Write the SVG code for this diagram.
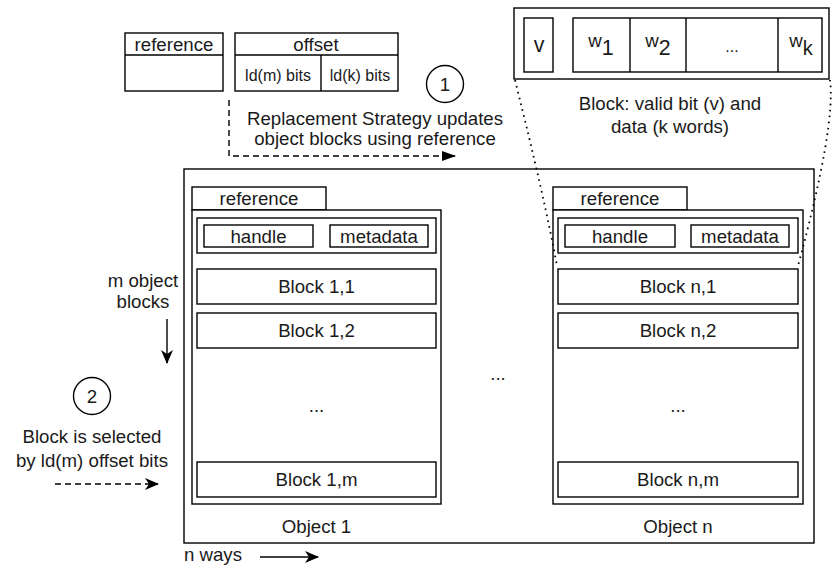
<svg xmlns="http://www.w3.org/2000/svg" width="832" height="570" viewBox="0 0 832 570">
  <style>
    .box { fill: #fff; stroke: #000; stroke-width: 1.4; }
    .t { font-family: "Liberation Sans", Arial, Helvetica, sans-serif; font-size: 18.67px; fill: #1a1a1a; text-anchor: middle; }
    .s { font-size: 16px; }
    .big { font-size: 21.33px; }
    .line { fill: none; stroke: #000; stroke-width: 1.4; }
    .dash { stroke-dasharray: 6 4; }
    .dot { fill: none; stroke: #000; stroke-width: 1.8; stroke-dasharray: 1.6 4.4; }
  </style>
  <defs>
    <marker id="tri" viewBox="0 0 14 10" refX="13" refY="5" markerWidth="14" markerHeight="10" markerUnits="userSpaceOnUse" orient="auto">
      <path d="M0,0 L14,5 L0,10 Z" fill="#000"/>
    </marker>
    <marker id="classic" viewBox="0 0 14 12" refX="13" refY="6" markerWidth="14" markerHeight="12" markerUnits="userSpaceOnUse" orient="auto">
      <path d="M0,0 L14,6 L0,12 L4,6 Z" fill="#000"/>
    </marker>
  </defs>

  <!-- address fields: reference and offset -->
  <g id="address-reference">
    <rect class="box" x="125" y="33" width="98" height="58"/>
    <line class="line" x1="125" y1="55" x2="223" y2="55"/>
    <text class="t" x="174" y="51">reference</text>
  </g>
  <g id="address-offset">
    <rect class="box" x="235" y="33" width="163" height="58"/>
    <line class="line" x1="235" y1="55" x2="398" y2="55"/>
    <line class="line" x1="321" y1="55" x2="321" y2="91"/>
    <text class="t" x="316" y="51">offset</text>
    <text class="t s" x="278" y="81">ld(m) bits</text>
    <text class="t s" x="360" y="81">ld(k) bits</text>
  </g>

  <!-- step markers -->
  <g id="step-1">
    <circle class="box" cx="445" cy="84" r="18.5"/>
    <text class="t" x="445" y="91">1</text>
  </g>
  <g id="step-1-label">
    <text class="t" x="375" y="125">Replacement Strategy updates</text>
    <text class="t" x="375" y="145">object blocks using reference</text>
  </g>
  <g id="step-2">
    <circle class="box" cx="92" cy="396" r="18.5"/>
    <text class="t" x="92" y="403">2</text>
  </g>
  <g id="step-2-label">
    <text class="t" x="92" y="443">Block is selected</text>
    <text class="t" x="92" y="467">by ld(m) offset bits</text>
  </g>

  <!-- block layout: valid bit and k words -->
  <g id="block-detail">
    <rect class="box" x="514" y="8" width="315" height="71"/>
    <rect class="box" x="524" y="18" width="29" height="54"/>
    <text class="t big" x="539" y="52">v</text>
    <rect class="box" x="573" y="18" width="249" height="54"/>
    <line class="line" x1="630" y1="18" x2="630" y2="72"/>
    <line class="line" x1="686" y1="18" x2="686" y2="72"/>
    <line class="line" x1="778" y1="18" x2="778" y2="72"/>
    <text class="t" x="601" y="55"><tspan dy="-8">w</tspan><tspan class="big" dy="8">1</tspan></text>
    <text class="t" x="658" y="55"><tspan dy="-8">w</tspan><tspan class="big" dy="8">2</tspan></text>
    <text class="t s" x="732" y="52">...</text>
    <text class="t" x="801" y="55"><tspan dy="-8">w</tspan><tspan style="font-size:20px" dy="8">k</tspan></text>
    <text class="t" x="670" y="110">Block: valid bit (v) and</text>
    <text class="t" x="670" y="133">data (k words)</text>
  </g>

  <!-- set container -->
  <g id="set">
    <rect class="box" x="184" y="169" width="630" height="374"/>
    <text class="t" x="498" y="380">...</text>
  </g>

  <!-- object 1 -->
  <g id="object-1">
    <rect class="box" x="192" y="187" width="134" height="23"/>
    <text class="t" x="259" y="205">reference</text>
    <rect class="box" x="192" y="210" width="249" height="294"/>
    <rect class="box" x="197" y="218" width="239" height="35"/>
    <rect class="box" x="204" y="225" width="109" height="22"/>
    <text class="t" x="258.5" y="243">handle</text>
    <rect class="box" x="330" y="225" width="98" height="22"/>
    <text class="t" x="379" y="243">metadata</text>
    <rect class="box" x="197" y="269" width="239" height="35"/>
    <text class="t" x="316.5" y="293">Block 1,1</text>
    <rect class="box" x="197" y="313" width="239" height="35"/>
    <text class="t" x="316.5" y="337">Block 1,2</text>
    <text class="t" x="316.5" y="412">...</text>
    <rect class="box" x="197" y="462" width="239" height="35"/>
    <text class="t" x="316.5" y="486">Block 1,m</text>
    <text class="t" x="316.5" y="533">Object 1</text>
  </g>

  <!-- object n -->
  <g id="object-n">
    <rect class="box" x="553" y="187" width="134" height="23"/>
    <text class="t" x="620" y="205">reference</text>
    <rect class="box" x="553" y="210" width="250" height="294"/>
    <rect class="box" x="558" y="218" width="240" height="35"/>
    <rect class="box" x="565" y="225" width="110" height="22"/>
    <text class="t" x="620" y="243">handle</text>
    <rect class="box" x="691" y="225" width="98" height="22"/>
    <text class="t" x="740" y="243">metadata</text>
    <rect class="box" x="558" y="269" width="240" height="35"/>
    <text class="t" x="678" y="293">Block n,1</text>
    <rect class="box" x="558" y="313" width="240" height="35"/>
    <text class="t" x="678" y="337">Block n,2</text>
    <text class="t" x="678" y="412">...</text>
    <rect class="box" x="558" y="462" width="240" height="35"/>
    <text class="t" x="678" y="486">Block n,m</text>
    <text class="t" x="678" y="533">Object n</text>
  </g>

  <!-- axis labels -->
  <g id="axis-m">
    <text class="t" x="143" y="287">m object</text>
    <text class="t" x="143" y="308">blocks</text>
  </g>
  <g id="axis-n">
    <text class="t" x="213" y="561">n ways</text>
  </g>

  <!-- connectors -->
  <g id="connectors">
    <path class="line dash" d="M229,100 V156 H455" marker-end="url(#tri)"/>
    <path class="line dash" d="M55,484 H158" marker-end="url(#classic)"/>
    <path class="line" d="M167,319 V363" marker-end="url(#classic)"/>
    <path class="line" d="M260,557 H318" marker-end="url(#classic)"/>
    <path class="dot" d="M515,80 Q545,200 557,266"/>
    <path class="dot" d="M830,80 Q836,125 798,266"/>
  </g>
</svg>
